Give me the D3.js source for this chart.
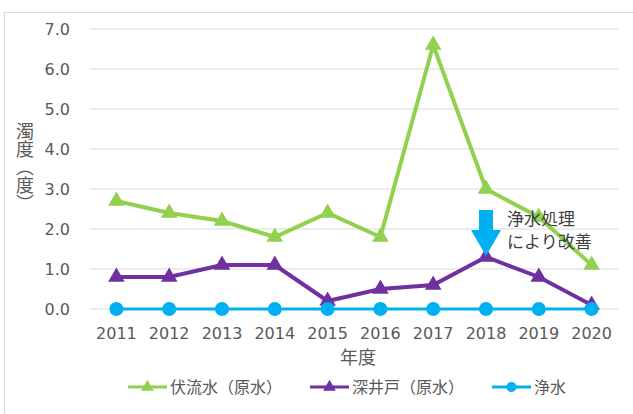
<!DOCTYPE html>
<html>
<head>
<meta charset="utf-8">
<script src="https://cdn.jsdelivr.net/npm/d3@7"></script>
<style>
  body { margin: 0; background: #fff; }
  text { font-family: "DejaVu Sans", "Noto Sans CJK JP", sans-serif; fill: #595959; }
  .jp { font-family: "Noto Sans CJK JP", sans-serif; }
</style>
</head>
<body>
<div id="chart"></div>
<script>
var width = 633, height = 414;

var years = ["2011", "2012", "2013", "2014", "2015", "2016", "2017", "2018", "2019", "2020"];
var fukuryu = [2.7, 2.4, 2.2, 1.8, 2.4, 1.8, 6.6, 3.0, 2.3, 1.1];
var fukaido = [0.8, 0.8, 1.1, 1.1, 0.2, 0.5, 0.6, 1.3, 0.8, 0.1];
var josui = [0, 0, 0, 0, 0, 0, 0, 0, 0, 0];
var yTicks = [0, 1, 2, 3, 4, 5, 6, 7];
var seriesNames = ["伏流水（原水）", "深井戸（原水）", "浄水"];

var series = [
    {name: seriesNames[0], values: fukuryu, color: "#92d050", marker: "tri", w: 4},
    {name: seriesNames[1], values: fukaido, color: "#7030a0", marker: "tri", w: 4},
    {name: seriesNames[2], values: josui, color: "#00b0f0", marker: "circle", w: 3}
];

var svg = d3.select("#chart").append("svg")
    .attr("width", width)
    .attr("height", height);

// outer frame
svg.append("rect")
    .attr("x", 4.5).attr("y", 12.5)
    .attr("width", 640).attr("height", 420)
    .attr("fill", "none")
    .attr("stroke", "#d9d9d9");

var x = d3.scaleBand().domain(years).range([90, 618]);
var y = d3.scaleLinear().domain([0, 7]).range([309, 29]);

// gridlines
svg.append("g").selectAll("line")
    .data(yTicks)
    .enter().append("line")
    .attr("x1", 90).attr("x2", 618)
    .attr("y1", d => y(d)).attr("y2", d => y(d))
    .attr("stroke", "#d9d9d9")
    .attr("stroke-width", 1);

// y tick labels
svg.append("g").selectAll("text")
    .data(yTicks)
    .enter().append("text")
    .attr("x", 70)
    .attr("y", d => y(d) + 6)
    .attr("text-anchor", "end")
    .style("font-size", "16px")
    .text(d => d.toFixed(1));

// x tick labels
svg.append("g").selectAll("text")
    .data(years)
    .enter().append("text")
    .attr("x", d => x(d) + x.bandwidth() / 2)
    .attr("y", 339)
    .attr("text-anchor", "middle")
    .style("font-size", "16px")
    .text(d => d);

// axis titles
svg.append("text")
    .attr("class", "jp")
    .attr("x", 358).attr("y", 364)
    .attr("text-anchor", "middle")
    .style("font-size", "18px")
    .text("年度");

svg.append("text")
    .attr("class", "jp")
    .attr("x", 25).attr("y", 167)
    .attr("text-anchor", "middle")
    .style("writing-mode", "vertical-rl")
    .style("font-size", "18px")
    .text("濁度（度）");

var cx = d => x(d) + x.bandwidth() / 2;
var tri = d3.symbol().type(d3.symbolTriangle).size(120);

var line = d3.line()
    .x((d, i) => cx(years[i]))
    .y(d => y(d));

series.forEach(function(s) {
    var g = svg.append("g");
    g.append("path")
        .attr("d", line(s.values))
        .attr("fill", "none")
        .attr("stroke", s.color)
        .attr("stroke-width", s.w);
    if (s.marker === "tri") {
        g.selectAll("path.m")
            .data(s.values)
            .enter().append("path")
            .attr("class", "m")
            .attr("d", tri)
            .attr("transform", (d, i) => "translate(" + cx(years[i]) + "," + y(d) + ")")
            .attr("fill", s.color);
    } else {
        g.selectAll("circle")
            .data(s.values)
            .enter().append("circle")
            .attr("cx", (d, i) => cx(years[i]))
            .attr("cy", d => y(d))
            .attr("r", 7)
            .attr("fill", s.color);
    }
});

// annotation arrow
var ax = cx("2018");
svg.append("path")
    .attr("d", "M" + (ax - 7) + ",210 h14 v20 h8 l-15,26 l-15,-26 h8 z")
    .attr("fill", "#00b0f0");

svg.append("text")
    .attr("class", "jp")
    .attr("x", 507).attr("y", 225)
    .style("font-size", "17px")
    .style("fill", "#404040")
    .text("浄水処理");
svg.append("text")
    .attr("class", "jp")
    .attr("x", 507).attr("y", 248)
    .style("font-size", "17px")
    .style("fill", "#404040")
    .text("により改善");

// legend
var legendX = [128, 310, 492];
var legend = svg.append("g").selectAll("g")
    .data(series)
    .enter().append("g")
    .attr("transform", (d, i) => "translate(" + legendX[i] + ",387)");

legend.append("line")
    .attr("x1", 0).attr("x2", 39)
    .attr("stroke", d => d.color)
    .attr("stroke-width", 3);

legend.append("path")
    .attr("d", (d) => d.marker === "tri" ? d3.symbol().type(d3.symbolTriangle).size(70)() : d3.symbol().type(d3.symbolCircle).size(80)())
    .attr("transform", "translate(19.5,0)")
    .attr("fill", d => d.color);

legend.append("text")
    .attr("class", "jp")
    .attr("x", 42).attr("y", 6)
    .style("font-size", "16px")
    .text(d => d.name);
</script>
</body>
</html>
